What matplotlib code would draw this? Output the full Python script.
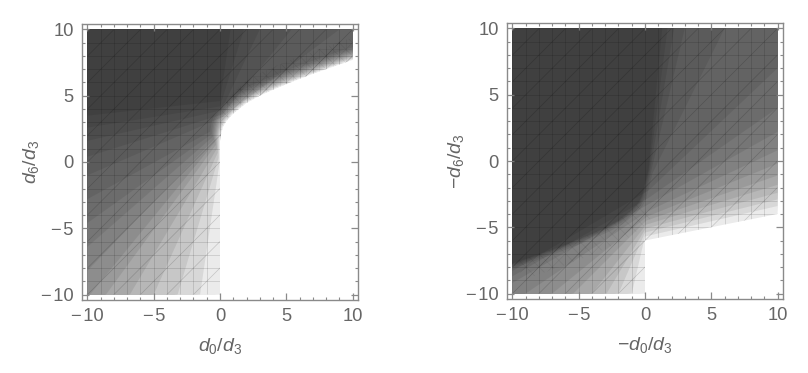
# plot.py - two overlapping region plots, built from stacked translucent layers
import numpy as np
import matplotlib
matplotlib.use("Agg")
import matplotlib.pyplot as plt
from matplotlib.patches import Polygon, Rectangle

plt.rcParams["font.family"] = ["Liberation Sans"]
plt.rcParams["mathtext.fontset"] = "custom"
plt.rcParams["mathtext.rm"] = "Liberation Sans"
plt.rcParams["mathtext.it"] = "Liberation Sans:italic"

TICK_GRAY = "#666666"
FRAME_GRAY = "#8a8a8a"
LAYER_ALPHA = 0.078

# --- left panel, values ---
left_curve_x = [0.0, 0.1, 0.25, 0.5, 1, 2, 3, 4, 5, 6, 7, 8, 9, 10, 11]
left_curve_y = [1.6, 2.2, 2.7, 3.1, 3.65, 4.45, 5.0, 5.45, 5.87, 6.27, 6.65, 7.0, 7.35, 7.7, 8.0]
left_fan_start_x = [0, -1.5, -3.2, -5.0, -6.8, -8.6, -9.8, -10, -10, -10, -10]
left_fan_start_y = [-10, -10, -10, -10, -10, -10, -10, -8.2, -6.4, -4.6, -2.8]
left_fan_apex_y = [1.6, -0.2, 0.3, 0.7, 1.0, 1.3, 1.5, 1.7, 1.9, 2.1, 2.3]
left_curve_offset = [0, 0.08, 0.16, 0.25, 0.34, 0.44, 0.55, 0.66, 0.78, 0.9, 1.05]
left_top_start_y = [-1.0, 0.4, 1.6, 2.6, 3.5]
left_top_apex_x = [0.2, 0.2, 0.1, 0.0, 0.0]
left_top_apex_y = [3.4, 3.6, 3.9, 4.2, 4.6]
left_top_end_x = [9.0, 5.4, 3.0, 1.8, 0.8]
left_dense_upper = [1.2, 1.3, 1.4, 1.5, 1.6, 1.7, 1.7, 1.7, 1.7, 1.7, 1.7, 1.7, 1.7, 1.7, 1.7]

# --- right panel ---
right_fan_start_x = [0, -1.0, -2.0, -2.9, -4.0, -5.4, -7.0, -9.0, -10, -10, -10]
right_fan_start_y = [-10, -10, -10, -10, -10, -10, -10, -10, -9.2, -8.7, -8.3]
right_apex_x = [0, 0, 0, 0.05, 0.1, 0.1, 0.15, 0.2, 0.2, 0.25, 0.3]
right_apex_y = [-6.0, -5.7, -5.4, -5.1, -4.8, -4.5, -4.2, -3.8, -3.3, -2.8, -2.2]
right_end_y = [-4.0, -3.4, -2.9, -2.4, -1.8, -1.1, -0.2, 0.8, 2.2, 4.0, 7.0]
right_curve_x = [-11, -10, -9, -8, -7, -6, -5, -4, -3, -2, -1, -0.5, -0.25, -0.1, 0.05, 0.25]
right_curve_y = [-8.0, -7.7, -7.35, -7.0, -6.65, -6.27, -5.87, -5.45, -5.0, -4.45, -3.65, -3.1, -2.6, -2.0, -1.4, -0.6]
right_curve_offset = [0.45, 0.3, 0.18, 0.09, 0.03]
right_top_x = [6.0, 3.0, 2.2, 1.7, 1.3]

major_ticks = [-10, -5, 0, 5, 10]
major_labels = ["\u2212\u200a10", "\u2212\u200a5", "0", "5", "10"]
minor_ticks = [-9, -8, -7, -6, -4, -3, -2, -1, 1, 2, 3, 4, 6, 7, 8, 9]


def add_layer(ax, pts, clip):
    # one translucent step of the region plot
    patch = Polygon(pts, closed=True, facecolor="black", edgecolor="none", alpha=LAYER_ALPHA)
    ax.add_patch(patch)
    patch.set_clip_path(clip)


def add_mesh(ax, clip_poly, lw=0.5, alpha=0.17, step=1.0, diag=2, anti=False):
    # mesh lines of the plot, cut off at the shaded area
    grid = np.arange(-10, 10.01, step)
    segs = [([g, g], [-10, 10]) for g in grid] + [([-10, 10], [g, g]) for g in grid]
    for c in np.arange(-20, 20.01, diag):
        segs.append(([-10, 10], [-10 + c, 10 + c]))
        if anti:
            segs.append(([-10, 10], [10 + c, -10 + c]))
    for xs, ys in segs:
        line, = ax.plot(xs, ys, color="black", lw=lw, alpha=alpha)
        line.set_clip_path(clip_poly)


def style_axes(ax, xlabel, ylabel, ylabel_x):
    lim = 10.415
    ax.set_xlim(-lim, lim)
    ax.set_ylim(-lim, lim)
    ax.set_xticks(major_ticks, major_labels)
    ax.set_yticks(major_ticks, major_labels)
    ax.set_xticks(minor_ticks, minor=True)
    ax.set_yticks(minor_ticks, minor=True)
    ax.tick_params(which="major", direction="in", length=5, width=0.9, color=FRAME_GRAY,
                   top=True, right=True, labelcolor=TICK_GRAY, labelsize=13.2, pad=6)
    ax.tick_params(which="minor", direction="in", length=2.5, width=0.8, color=FRAME_GRAY,
                   top=True, right=True)
    for s in ax.spines.values():
        s.set_color(FRAME_GRAY)
        s.set_linewidth(1.0)
    ax.set_xlabel(xlabel, color=TICK_GRAY, fontsize=14, labelpad=8)
    ax.set_ylabel(ylabel, color=TICK_GRAY, fontsize=14)
    ax.yaxis.set_label_coords(ylabel_x, 0.5)


W, H = 808, 373
fig = plt.figure(figsize=(W / 100, H / 100), dpi=100)
ax1 = fig.add_axes([82 / W, 1 - 300 / H, 276 / W, 276 / H])
ax2 = fig.add_axes([507 / W, 1 - 299 / H, 276 / W, 276 / H])

# left panel
style_axes(ax1, r"$d_0/d_3$", r"$d_6/d_3$", -0.148)
clip1 = Rectangle((-10, -10), 20, 20, transform=ax1.transData)
for sx, sy, apex_y, off in zip(left_fan_start_x, left_fan_start_y, left_fan_apex_y, left_curve_offset):
    d = off * 0.7
    pts = [(sx, sy), (-d, apex_y)]
    pts += [(x - d, y + d) for x, y in zip(left_curve_x, left_curve_y)]
    pts += [(11, 11), (-11, 11)]
    if sy <= -10:
        pts += [(-11, -11)]
    add_layer(ax1, pts, clip1)
for sy, ax_, ay, ex in zip(left_top_start_y, left_top_apex_x, left_top_apex_y, left_top_end_x):
    add_layer(ax1, [(-10, sy), (ax_, ay), (ex, 10), (-11, 11)], clip1)

outline1 = Polygon([(0, -10), (0, 1.6)] + list(zip(left_curve_x[:-1], left_curve_y[:-1]))
                   + [(10, 10), (-10, 10), (-10, -10)], transform=ax1.transData)
add_mesh(ax1, outline1)
band1 = Polygon(list(zip(left_curve_x[:-1], left_curve_y[:-1]))
                + [(x, y + u) for x, y, u in zip(left_curve_x[:-1][::-1], left_curve_y[:-1][::-1],
                                                 left_dense_upper[:-1][::-1])],
                transform=ax1.transData)
add_mesh(ax1, band1, lw=0.4, alpha=0.09, step=0.5, diag=1, anti=True)

# right panel
style_axes(ax2, r"$-d_0/d_3$", r"$-d_6/d_3$", -0.148)
clip2 = Rectangle((-10, -10), 20, 20, transform=ax2.transData)
for sx, sy, ax_, ay, ey in zip(right_fan_start_x, right_fan_start_y, right_apex_x, right_apex_y, right_end_y):
    pts = [(sx, sy), (ax_, ay), (10, ey), (11, 11), (-11, 11)]
    if sy <= -10:
        pts += [(-11, -11)]
    add_layer(ax2, pts, clip2)
for off, top_x in zip(right_curve_offset, right_top_x):
    d = off * 0.7
    pts = [(x + d, y - d) for x, y in zip(right_curve_x, right_curve_y)]
    pts += [(top_x, 10), (top_x, 11), (-11, 11)]
    add_layer(ax2, pts, clip2)

outline2 = Polygon([(0, -10), (0, -6), (10, -4), (10, 10), (-10, 10), (-10, -10)], transform=ax2.transData)
add_mesh(ax2, outline2)
band2 = Polygon([(x, y) for x, y in zip(right_curve_x[1:12], right_curve_y[1:12])]
                + [(x + 1.0, y - 1.2) for x, y in zip(right_curve_x[1:12][::-1], right_curve_y[1:12][::-1])],
                transform=ax2.transData)
add_mesh(ax2, band2, lw=0.4, alpha=0.08, step=1.0, diag=1, anti=True)

fig.savefig("out.png", dpi=100)
